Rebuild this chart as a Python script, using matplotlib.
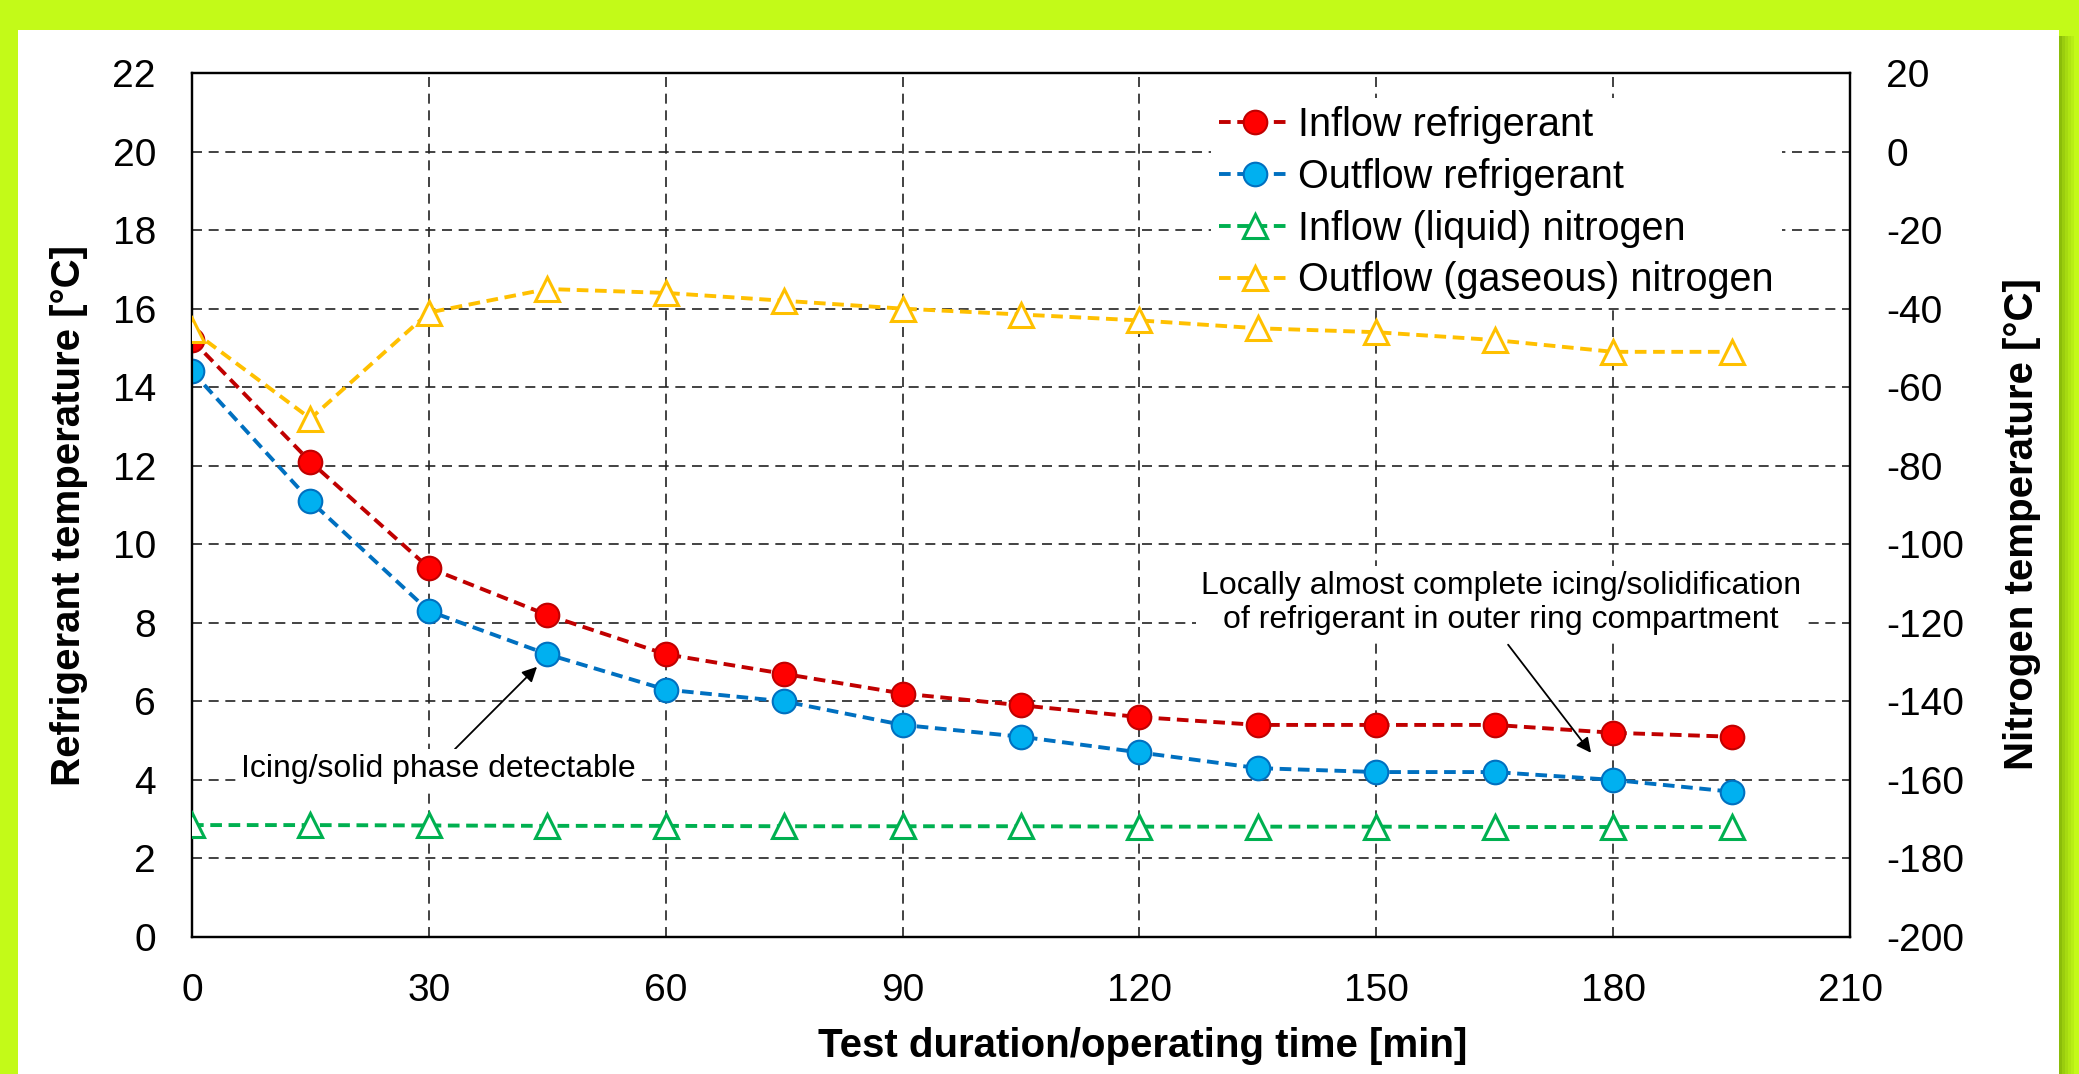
import matplotlib
matplotlib.use("Agg")
import matplotlib.pyplot as plt
from matplotlib.patches import Rectangle

plt.rcParams['font.family'] = ['Liberation Sans', 'DejaVu Sans']
plt.rcParams['axes.unicode_minus'] = False

# ---- data ----
time_min = [0, 15, 30, 45, 60, 75, 90, 105, 120, 135, 150, 165, 180, 195]
inflow_refrigerant = [15.2, 12.1, 9.4, 8.2, 7.2, 6.7, 6.2, 5.9, 5.6, 5.4, 5.4, 5.4, 5.2, 5.1]
outflow_refrigerant = [14.4, 11.1, 8.3, 7.2, 6.3, 6.0, 5.4, 5.1, 4.7, 4.3, 4.2, 4.2, 4.0, 3.7]
inflow_nitrogen = [-171.5, -171.5, -171.6, -171.7, -171.7, -171.8, -171.8, -171.8, -171.9,
                   -171.9, -171.9, -172.0, -172.0, -172.0]
outflow_nitrogen = [-45.5, -68, -41, -35, -36, -38, -40, -41.5, -43, -45, -46, -48, -51, -51]

series_labels = ["Inflow refrigerant", "Outflow refrigerant",
                 "Inflow (liquid) nitrogen", "Outflow (gaseous) nitrogen"]
x_ticks = [0, 30, 60, 90, 120, 150, 180, 210]
y_left_ticks = [0, 2, 4, 6, 8, 10, 12, 14, 16, 18, 20, 22]
y_right_ticks = [-200, -180, -160, -140, -120, -100, -80, -60, -40, -20, 0, 20]

W, H = 2079, 1074
fig = plt.figure(figsize=(W / 100, H / 100), dpi=100)
fig.patch.set_facecolor('#C3FA18')

# shadow and white panel
for i, a in enumerate([0.55, 0.4, 0.28, 0.18, 0.1]):
    fig.patches.append(Rectangle(((2059 + i * 3) / W, 0), 3 / W, (H - 36) / H,
                                 transform=fig.transFigure, facecolor='#5E8A00',
                                 alpha=a, edgecolor='none', zorder=-3))
fig.patches.append(Rectangle((18 / W, 0), (2059 - 18) / W, (H - 30) / H,
                             transform=fig.transFigure, facecolor='white',
                             edgecolor='none', zorder=-2))

ax = fig.add_axes([192 / W, (H - 937) / H, (1850 - 192) / W, (937 - 73) / H])
ax.set_facecolor('none')
ax2 = ax.twinx()

ln_kw = dict(lw=2.8, dashes=(3, 1.7))
l1, = ax.plot(time_min, inflow_refrigerant, color='#C00000', marker='o', ms=17,
              mfc='#FF0000', mec='#C00000', mew=1.5, zorder=5, **ln_kw)
l2, = ax.plot(time_min, outflow_refrigerant, color='#0070C0', marker='o', ms=17,
              mfc='#00B0F0', mec='#0070C0', mew=1.5, zorder=5, **ln_kw)
l3, = ax2.plot(time_min, inflow_nitrogen, color='#00B050', marker='^', ms=17,
               mfc='white', mec='#00B050', mew=2.2, zorder=5, **ln_kw)
l4, = ax2.plot(time_min, outflow_nitrogen, color='#FFC000', marker='^', ms=17,
               mfc='white', mec='#FFC000', mew=2.2, zorder=5, **ln_kw)

ax.set_xlim(0, 210)
ax.set_ylim(0, 22)
ax2.set_ylim(-200, 20)
ax.set_xticks(x_ticks)
ax.set_yticks(y_left_ticks)
ax2.set_yticks(y_right_ticks)

ax.grid(True, color='#222222', lw=1.2, dashes=(6, 4))
ax.tick_params(axis='both', length=0, pad=26, labelsize=28)
ax2.tick_params(axis='y', length=0, pad=26, labelsize=28)
for a in (ax, ax2):
    for s in a.spines.values():
        s.set_linewidth(1.6)
        s.set_color('black')

fig.text(69 / W, 1 - 515 / H, "Refrigerant temperature [°C]", rotation=90,
         ha='center', va='center', fontsize=29, fontweight='bold')
fig.text(2022 / W, 1 - 524 / H, "Nitrogen temperature [°C]", rotation=90,
         ha='center', va='center', fontsize=29, fontweight='bold')
fig.text(1143 / W, 1 - 1057 / H, "Test duration/operating time [min]",
         ha='center', va='baseline', fontsize=29, fontweight='bold')

leg = ax2.legend([l1, l2, l3, l4], series_labels, loc='upper left',
                 bbox_to_anchor=(1211 / W, 1 - 98 / H), bbox_transform=fig.transFigure,
                 fontsize=28.5, frameon=True, facecolor='white', edgecolor='none',
                 framealpha=1, fancybox=False, handlelength=1.8, handletextpad=0.2,
                 labelspacing=0.35, borderpad=0.2, borderaxespad=0)
leg.set_zorder(10)

bbox_kw = dict(boxstyle='square,pad=0.15', facecolor='white', edgecolor='none')
ax2.annotate("Icing/solid phase detectable", xy=(43.7, -131.2), xytext=(6.2, -157.2),
             textcoords='data', ha='left', va='center', fontsize=23, bbox=bbox_kw,
             arrowprops=dict(arrowstyle='-|>', color='black', lw=1.3,
                             mutation_scale=22, shrinkA=0, shrinkB=0,
                             relpos=(0.53, 1.0)), zorder=8)
ax2.annotate("Locally almost complete icing/solidification\nof refrigerant in outer ring compartment",
             xy=(177.2, -153.1), xytext=(165.8, -115), textcoords='data',
             ha='center', va='center', fontsize=23, linespacing=1.2, bbox=bbox_kw,
             arrowprops=dict(arrowstyle='-|>', color='black', lw=1.3,
                             mutation_scale=22, shrinkA=4, shrinkB=0,
                             relpos=(0.5, 0.0)), zorder=8)

fig.savefig("out.png", dpi=100, facecolor=fig.get_facecolor())
